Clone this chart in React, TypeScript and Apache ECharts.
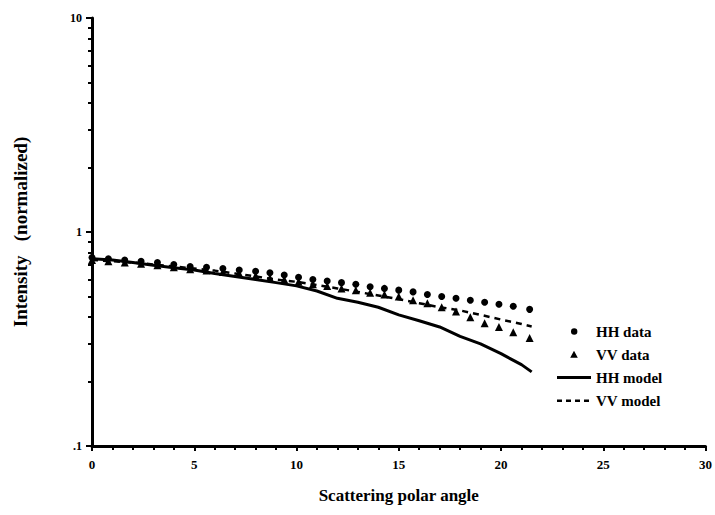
import React, { useEffect, useRef } from "react";
import * as echarts from "echarts";

// Scattering polar angle (deg) at which the data were sampled
const dataAngles = [0, 0.8, 1.6, 2.4, 3.2, 4.0, 4.8, 5.6, 6.4, 7.2, 8.0, 8.7, 9.4, 10.1, 10.8, 11.5, 12.2, 12.9, 13.6, 14.3, 15.0, 15.7, 16.4, 17.1, 17.8, 18.5, 19.2, 19.9, 20.6, 21.4];
const hhData = [0.76, 0.75, 0.74, 0.73, 0.72, 0.705, 0.69, 0.685, 0.675, 0.665, 0.655, 0.645, 0.63, 0.615, 0.6, 0.59, 0.58, 0.57, 0.555, 0.545, 0.535, 0.525, 0.51, 0.5, 0.49, 0.48, 0.47, 0.46, 0.45, 0.435];
const vvData = [0.74, 0.73, 0.72, 0.71, 0.70, 0.685, 0.67, 0.66, 0.65, 0.64, 0.625, 0.61, 0.6, 0.585, 0.57, 0.56, 0.545, 0.535, 0.52, 0.51, 0.5, 0.48, 0.465, 0.445, 0.425, 0.4, 0.375, 0.36, 0.34, 0.32];

// Model curves
const modelAngles = [0, 1, 2, 3, 4, 5, 6, 7, 8, 9, 10, 11, 12, 13, 14, 15, 16, 17, 18, 19, 20, 21, 21.5];
const hhModel = [0.75, 0.74, 0.72, 0.7, 0.68, 0.665, 0.64, 0.62, 0.6, 0.58, 0.56, 0.53, 0.49, 0.47, 0.445, 0.41, 0.385, 0.36, 0.325, 0.3, 0.27, 0.24, 0.222];
const vvModel = [0.74, 0.73, 0.72, 0.705, 0.69, 0.675, 0.66, 0.64, 0.62, 0.6, 0.585, 0.565, 0.545, 0.525, 0.505, 0.485, 0.465, 0.445, 0.43, 0.41, 0.39, 0.372, 0.362];

const xTicks = [0, 5, 10, 15, 20, 25, 30];
const yMajor = [0.1, 1, 10];
const yMinor = [0.2, 0.3, 0.4, 0.5, 0.6, 0.7, 0.8, 0.9, 2, 3, 4, 5, 6, 7, 8, 9];

const FONT = "'Liberation Serif', 'Times New Roman', serif";
const INK = "#000";

// Legend keys drawn in a 34x14 box; two hair-thin corner specks fix the box
// so the glyph keeps its own size instead of being stretched to fill it.
const BOX = "M0,0h0.01v0.01h-0.01z M33.99,13.99h0.01v0.01h-0.01z ";
const KEY_DOT = "path://" + BOX + "M14,7a3.2,3.2 0 1,0 6.4,0a3.2,3.2 0 1,0 -6.4,0z";
const KEY_TRI = "path://" + BOX + "M17,3.2L20.8,10.2L13.2,10.2z";
const KEY_SOLID = "path://" + BOX + "M0,5.5h34v3h-34z";
const KEY_DASH = "path://" + BOX + "M0,6h5v2.5h-5z M9,6h5v2.5h-5z M18,6h5v2.5h-5z M27,6h5v2.5h-5z";

export default function App() {
  const ref = useRef<HTMLDivElement>(null);

  useEffect(() => {
    if (!ref.current) return;
    const chart = echarts.init(ref.current, undefined, { renderer: "svg" });
    const pair = (xs: number[], ys: number[]) => xs.map((x, i) => [x, ys[i]]);
    const keyStyle = { color: INK, borderWidth: 0, opacity: 1 };

    chart.setOption({
      animation: false,
      backgroundColor: "#fff",
      grid: { left: 92, right: 8, top: 18, bottom: 69 },
      legend: {
        orient: "vertical",
        left: 552,
        top: 319,
        itemWidth: 34,
        itemHeight: 14,
        itemGap: 8,
        textStyle: { fontFamily: FONT, fontWeight: "bold", fontSize: 15, color: INK },
        data: [
          { name: "HH data", icon: KEY_DOT, itemStyle: keyStyle },
          { name: "VV data", icon: KEY_TRI, itemStyle: keyStyle },
          { name: "HH model", icon: KEY_SOLID, itemStyle: keyStyle },
          { name: "VV model", icon: KEY_DASH, itemStyle: keyStyle },
        ],
      },
      xAxis: {
        type: "value",
        min: 0,
        max: 30,
        interval: 5,
        name: "Scattering polar angle",
        nameLocation: "middle",
        nameGap: 41,
        nameTextStyle: { fontFamily: FONT, fontWeight: "bold", fontSize: 17, color: INK },
        axisLine: { show: true, lineStyle: { color: INK, width: 3 } },
        axisTick: { show: true, length: 5, lineStyle: { color: INK, width: 2 }, customValues: xTicks },
        minorTick: { show: true, splitNumber: 5, length: 4, lineStyle: { color: INK, width: 2 } },
        axisLabel: {
          fontFamily: FONT,
          fontWeight: "bold",
          fontSize: 13,
          color: INK,
          margin: 12,
          customValues: xTicks,
        },
        splitLine: { show: false },
      },
      yAxis: [
        {
          type: "log",
          logBase: 10,
          min: 0.1,
          max: 10,
          name: "Intensity   (normalized)",
          nameLocation: "middle",
          nameGap: 62,
          nameTextStyle: { fontFamily: FONT, fontWeight: "bold", fontSize: 19, color: INK },
          axisLine: { show: true, lineStyle: { color: INK, width: 3 } },
          axisTick: { show: true, length: 6, lineStyle: { color: INK, width: 2 }, customValues: yMajor },
          axisLabel: {
            fontFamily: FONT,
            fontWeight: "bold",
            fontSize: 12,
            color: INK,
            margin: 10,
            customValues: yMajor,
            formatter: (v: number) => (v < 1 ? String(v).replace(/^0/, "") : String(v)),
          },
          splitLine: { show: false },
        },
        {
          type: "log",
          logBase: 10,
          min: 0.1,
          max: 10,
          position: "left",
          axisLine: { show: false },
          axisTick: { show: true, length: 4, lineStyle: { color: INK, width: 2 }, customValues: yMinor },
          axisLabel: { show: false },
          splitLine: { show: false },
        },
      ],
      series: [
        {
          name: "HH data",
          type: "scatter",
          symbol: "circle",
          symbolSize: 7,
          itemStyle: { color: INK, opacity: 1 },
          data: pair(dataAngles, hhData),
          z: 3,
        },
        {
          name: "VV data",
          type: "scatter",
          symbol: "triangle",
          symbolSize: 8,
          itemStyle: { color: INK, opacity: 1 },
          data: pair(dataAngles, vvData),
          z: 3,
        },
        {
          name: "HH model",
          type: "line",
          showSymbol: false,
          symbol: "none",
          lineStyle: { color: INK, width: 3 },
          itemStyle: { color: INK },
          data: pair(modelAngles, hhModel),
          z: 2,
        },
        {
          name: "VV model",
          type: "line",
          showSymbol: false,
          symbol: "none",
          lineStyle: { color: INK, width: 2.5, type: [6, 5] },
          itemStyle: { color: INK },
          data: pair(modelAngles, vvModel),
          z: 2,
        },
      ],
    });

    return () => chart.dispose();
  }, []);

  return <div ref={ref} style={{ width: 715, height: 515, position: "fixed", left: 0, top: 0 }} />;
}
